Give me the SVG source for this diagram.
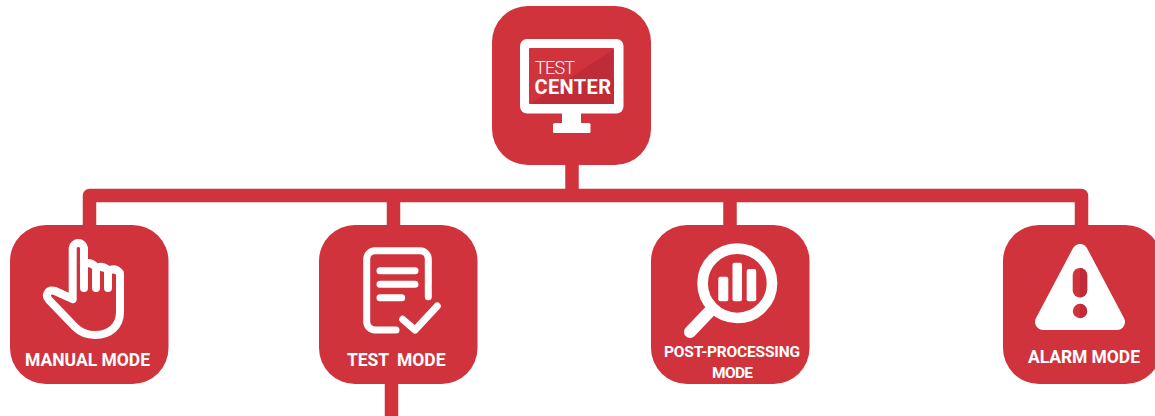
<svg xmlns="http://www.w3.org/2000/svg" width="1155" height="416" viewBox="0 0 1155 416">
<style>
.box{fill:#d0333c}
.dark{fill:#bf2c37}
.line{fill:none;stroke:#d0333c;stroke-width:13.5;stroke-linejoin:round}
.ico{fill:none;stroke:#fff;stroke-linecap:round;stroke-linejoin:round}
.wf{fill:#fff}
text{font-family:"Roboto","Liberation Sans",sans-serif;fill:#fff;font-weight:700}
.lbl{font-size:17.500px}
.sm{font-size:15.500px}
</style>
<rect width="1155" height="416" fill="#fff"/>
<g id="connectors">
<path class="line" d="M89.500 225V195.500H1081.500V225"/>
<path class="line" d="M572 165V195.500"/>
<path class="line" d="M393.500 195.500V225"/>
<path class="line" d="M730 195.500V225"/>
<path class="line" d="M391.500 384V416"/>
</g>
<g id="test-center">
<rect class="box" x="492" y="6" width="159" height="159" rx="36"/>
<rect class="wf" x="520" y="39" width="103.500" height="74.500" rx="7"/>
<rect class="wf" x="562" y="112" width="19" height="13"/>
<rect class="wf" x="553" y="123" width="37.500" height="10" rx="1.500"/>
<rect class="box" x="529" y="48" width="85" height="56" rx="1"/>
<path class="dark" d="M613 49.500L614 103Q614 104 613 104H533L530 104Z"/>
<text x="535" y="74" font-size="18" style="font-weight:300" textLength="40">TEST</text>
<text x="534.500" y="94" font-size="20" textLength="76.500">CENTER</text>
</g>
<g id="manual-mode">
<rect class="box" x="10" y="225" width="158.500" height="159" rx="36"/>
<path class="ico" stroke-width="8" d="M72.700 299V248A5.700 5.700 0 0 1 84 248V288M84 264Q90 261 96 267V288M96 268Q102 265 108 270V288M108 271Q115 267 120 273V312C120 326 110 335 95 335C86 335 80 332 75 327L49 300C45 296 47 289 55 291L72.700 299"/>
<text class="lbl" x="25" y="365.700" textLength="125">MANUAL MODE</text>
</g>
<g id="test-mode">
<rect class="box" x="319" y="225" width="158.500" height="159" rx="36"/>
<path class="ico" stroke-width="7" d="M428.300 296.700V259A8.300 8.300 0 0 0 420 250.700H375A8.300 8.300 0 0 0 366.700 259V321.700A8.300 8.300 0 0 0 375 330H396"/>
<path class="ico" stroke-width="7" d="M380 270.700H415M380 284.300H415M380 297.700H401.700M402.700 319.300L415 330L437.300 306"/>
<text class="lbl" x="347" y="365.700" textLength="98.500" xml:space="preserve">TEST  MODE</text>
</g>
<g id="post-processing-mode">
<rect class="box" x="651" y="225" width="158.500" height="159" rx="36"/>
<circle cx="737.300" cy="283.300" r="34.700" fill="none" stroke="#fff" stroke-width="10.700"/>
<path class="ico" stroke-width="12" d="M711 310L690 332"/>
<rect class="wf" x="718.300" y="276.700" width="10" height="24.500" rx="2"/>
<rect class="wf" x="732.500" y="262.700" width="9.500" height="38.500" rx="2"/>
<rect class="wf" x="746.700" y="269" width="9.500" height="32.200" rx="2"/>
<text class="sm" x="664" y="357.300" textLength="136">POST-PROCESSING</text>
<text class="sm" x="712" y="377.700" textLength="41">MODE</text>
</g>
<g id="alarm-mode">
<rect class="box" x="1003" y="225" width="158.500" height="159" rx="36"/>
<path d="M1080 252L1043 322H1117Z" fill="#fff" stroke="#fff" stroke-width="16" stroke-linejoin="round"/>
<rect class="box" x="1072.700" y="268" width="14.500" height="29.500" rx="7.250"/>
<circle class="box" cx="1080" cy="311" r="7.200"/>
<path class="dark" d="M1080 268A7.250 7.250 0 0 1 1087.200 275.250V290.250A7.250 7.250 0 0 1 1080 297.500ZM1080 303.800A7.200 7.200 0 0 1 1080 318.200Z"/>
<text class="lbl" x="1028" y="362.700" textLength="112">ALARM MODE</text>
</g>
</svg>
